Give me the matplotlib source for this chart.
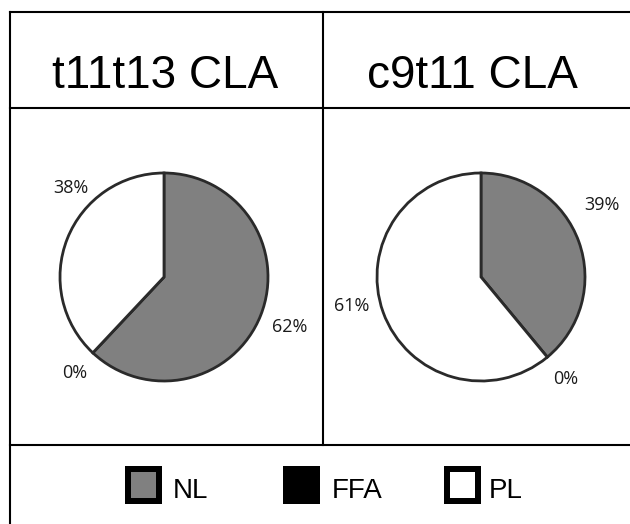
import numpy as np
import matplotlib
matplotlib.use("Agg")
import matplotlib.pyplot as plt
from matplotlib.patches import Rectangle

# ---- data ----
titles = ["t11t13 CLA", "c9t11 CLA"]
categories = ["NL", "FFA", "PL"]
values_t11t13 = [62, 0, 38]
values_c9t11 = [39, 0, 61]
series = [values_t11t13, values_c9t11]

# ---- style ----
W, H = 630, 524
colors = ["#808080", "#000000", "#ffffff"]
edge = "#2a2a2a"
pie_centers = [(164, 277), (481, 277)]
pie_R = 104
# per-label placement (angle offset from wedge middle in degrees, radial distance)
label_style = [
    [(0, 1.30), (0, 1.26), (-22, 1.24)],
    [(11, 1.35), (0, 1.27), (-7, 1.28)],
]
header_x = [165, 472]
legend_box_x = [125, 283, 444]
legend_text_x = [173, 332, 489]

fig = plt.figure(figsize=(W / 100, H / 100), dpi=100)
bg = fig.add_axes([0, 0, 1, 1])
bg.set_xlim(0, W)
bg.set_ylim(H, 0)
bg.axis("off")

lw = 1.5
# table lines
bg.plot([10, W], [12, 12], color="black", lw=lw, solid_capstyle="projecting")
bg.plot([10, 10], [12, H], color="black", lw=lw)
bg.plot([10, W], [108, 108], color="black", lw=lw)
bg.plot([10, W], [445, 445], color="black", lw=lw)
bg.plot([323, 323], [12, 445], color="black", lw=lw)

# headers
for x, t in zip(header_x, titles):
    bg.text(x, 88, t, ha="center", va="baseline", fontsize=33,
            family="Liberation Sans", color="black")

# legend
bw = 6  # border px
for bx, tx, cat, col in zip(legend_box_x, legend_text_x, categories, colors):
    bg.add_patch(Rectangle((bx + bw / 2, 466 + bw / 2), 37 - bw, 38 - bw,
                           facecolor=col, edgecolor="black",
                           linewidth=bw * 72 / 100, joinstyle="miter"))
    bg.text(tx, 498, cat, ha="left", va="baseline", fontsize=20,
            family="Liberation Sans", color="black")

# pies
for (cx, cy), vals, lstyle in zip(pie_centers, series, label_style):
    ax = fig.add_axes([(cx - pie_R) / W, 1 - (cy + pie_R) / H,
                       2 * pie_R / W, 2 * pie_R / H])
    ax.patch.set_alpha(0)
    wedges, _ = ax.pie(vals, colors=colors, startangle=90, counterclock=False,
                       radius=1, wedgeprops=dict(edgecolor=edge, linewidth=2.0,
                                                 joinstyle="miter"))
    ax.set_xlim(-1, 1)
    ax.set_ylim(-1, 1)
    ax.axis("off")
    for w, v, (off, dist) in zip(wedges, vals, lstyle):
        mid = np.deg2rad((w.theta1 + w.theta2) / 2 + off)
        ax.text(dist * np.cos(mid), dist * np.sin(mid), f"{v}%",
                ha="center", va="center", fontsize=13,
                family="Open Sans", color="#1a1a1a", clip_on=False)

fig.savefig("out.png", dpi=100)
